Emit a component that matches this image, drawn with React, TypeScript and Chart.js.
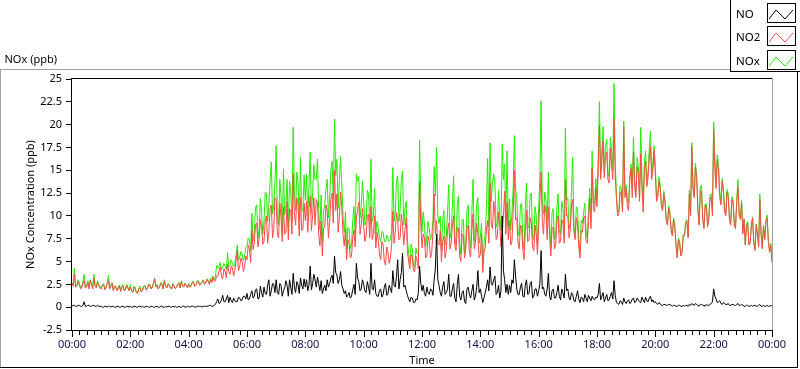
import React, { useEffect, useRef } from 'react';
import { Chart, registerables } from 'chart.js';

Chart.register(...registerables);

// ---- data (2.5-minute samples, 00:00 .. 24:00; one line per hour) ----
const STEP_MIN = 2.5;
const SERIES_LABELS = ['NO', 'NO2', 'NOx'];
const SERIES_COLORS = ['#000000', '#ff4848', '#22ee00'];
const X_TICK_LABELS = ['00:00', '02:00', '04:00', '06:00', '08:00', '10:00', '12:00', '14:00', '16:00', '18:00', '20:00', '22:00', '00:00'];
const Y_MIN = -2.5;
const Y_MAX = 25;
const Y_STEP = 2.5;

const NO = [
  0.1, 0.2, 0.2, 0.1, 0.1, 0.2, 0.2, 0.1, 0.1, 0.2, 0.6, 0.1, 0.1, 0.2, 0.2, 0.1, 0.1, 0.2, 0.2, 0.1, 0.1, 0.2, 0.1, 0.1,
  0.1, 0.0, 0.0, 0.1, 0.1, 0.0, 0.1, 0.1, 0.0, 0.1, 0.1, 0.0, 0.0, 0.1, 0.1, 0.0, 0.0, 0.1, 0.1, 0.0, 0.0, 0.1, 0.1, 0.0,
  0.1, 0.0, 0.0, 0.1, 0.1, 0.0, 0.0, 0.1, 0.1, 0.0, 0.1, 0.0, 0.0, 0.1, 0.1, 0.0, 0.0, 0.1, 0.1, 0.0, 0.0, 0.1, 0.1, 0.0,
  0.0, 0.1, 0.1, 0.0, 0.0, 0.1, 0.0, 0.1, 0.1, 0.0, 0.0, 0.1, 0.0, 0.1, 0.0, 0.0, 0.1, 0.0, 0.0, 0.1, 0.1, 0.0, 0.0, 0.1,
  0.1, 0.0, 0.1, 0.1, 0.1, 0.0, 0.0, 0.1, 0.1, 0.1, 0.1, 0.0, 0.1, 0.1, 0.1, 0.1, 0.1, 0.2, 0.2, 0.1, 0.1, 0.2, 0.3, 0.6,
  0.9, 0.4, 0.5, 0.8, 1.3, 0.6, 0.6, 0.9, 1.3, 0.5, 1.1, 0.7, 0.5, 1.0, 0.7, 0.6, 0.6, 1.1, 1.0, 0.7, 0.8, 1.2, 1.2, 0.9,
  1.5, 0.8, 0.9, 1.4, 1.8, 1.0, 1.2, 1.9, 2.0, 0.9, 1.0, 2.3, 1.6, 1.1, 2.2, 1.5, 1.4, 2.4, 3.0, 1.2, 1.8, 2.6, 2.5, 1.6,
  3.0, 1.6, 1.4, 2.6, 2.4, 1.2, 1.8, 2.1, 2.9, 2.4, 1.2, 3.0, 2.2, 1.4, 3.7, 2.2, 1.6, 2.8, 2.5, 1.5, 3.2, 2.4, 2.0, 3.1,
  2.2, 3.0, 1.8, 2.4, 4.5, 1.9, 2.6, 3.6, 3.0, 2.2, 3.3, 2.6, 1.8, 2.9, 1.5, 2.0, 2.4, 1.8, 3.0, 2.2, 2.6, 3.2, 3.5, 2.6,
  5.6, 3.8, 3.5, 2.6, 3.0, 3.9, 2.4, 2.0, 1.5, 1.8, 1.1, 1.3, 1.6, 1.0, 1.2, 1.9, 2.5, 1.4, 4.8, 3.2, 2.8, 1.8, 2.0, 3.0,
  2.5, 1.8, 1.6, 2.8, 2.2, 1.4, 4.8, 2.0, 1.9, 3.0, 1.5, 1.2, 1.2, 1.8, 2.0, 1.1, 1.4, 2.2, 2.6, 1.3, 1.5, 2.4, 2.0, 1.6,
  4.0, 2.4, 2.2, 3.4, 5.2, 2.0, 3.0, 3.8, 5.9, 2.2, 2.4, 1.8, 1.3, 0.9, 0.6, 1.1, 1.0, 0.5, 0.5, 0.9, 0.8, 1.6, 4.5, 2.6,
  1.8, 2.4, 1.5, 1.2, 2.2, 1.6, 1.4, 2.0, 1.9, 1.3, 3.0, 4.2, 8.0, 3.0, 2.4, 1.6, 1.2, 2.2, 2.8, 1.4, 1.6, 2.0, 3.6, 1.2,
  1.2, 2.0, 2.6, 1.0, 0.6, 2.4, 3.6, 1.2, 0.8, 1.6, 1.8, 0.6, 0.4, 2.0, 2.2, 1.4, 1.0, 1.8, 2.5, 0.8, 1.2, 2.2, 4.0, 1.6,
  2.0, 1.2, 0.5, 1.0, 1.6, 2.2, 3.0, 1.8, 4.4, 2.6, 2.4, 3.0, 3.4, 1.4, 1.6, 2.4, 1.0, 1.8, 10.0, 4.0, 3.0, 1.6, 2.5, 1.4,
  2.4, 1.6, 3.0, 2.6, 5.2, 3.4, 2.0, 1.4, 1.4, 2.2, 2.6, 1.2, 1.1, 2.4, 3.0, 1.4, 1.5, 2.6, 2.8, 1.0, 1.2, 2.0, 2.0, 1.2,
  1.8, 2.6, 6.2, 2.0, 2.2, 1.4, 1.2, 2.0, 3.7, 1.2, 0.8, 1.8, 2.0, 1.0, 1.0, 1.6, 2.4, 1.2, 0.8, 2.0, 1.6, 1.0, 3.6, 1.8,
  2.0, 1.0, 0.8, 1.6, 1.4, 0.7, 0.6, 1.2, 1.8, 0.9, 0.5, 1.1, 1.0, 0.6, 1.4, 1.0, 0.6, 1.3, 1.0, 0.7, 1.2, 0.9, 0.8, 1.1,
  1.0, 1.4, 2.6, 0.8, 1.2, 1.6, 0.6, 1.0, 1.4, 0.7, 0.8, 1.2, 1.6, 0.9, 2.9, 1.3, 0.5, 0.4, 0.3, 0.7, 0.6, 0.3, 1.0, 0.6,
  0.4, 0.7, 0.8, 0.4, 0.5, 0.9, 1.0, 0.5, 0.6, 1.0, 0.8, 0.6, 0.5, 1.1, 0.8, 0.5, 1.1, 0.7, 0.6, 1.0, 1.2, 0.6, 0.8, 0.5,
  0.6, 0.4, 0.3, 0.5, 0.4, 0.2, 0.2, 0.3, 0.3, 0.2, 0.2, 0.3, 0.3, 0.2, 0.1, 0.2, 0.2, 0.1, 0.1, 0.2, 0.2, 0.1, 0.1, 0.2,
  0.1, 0.2, 0.2, 0.1, 0.3, 0.2, 0.4, 0.3, 0.2, 0.4, 0.3, 0.2, 0.1, 0.3, 0.3, 0.2, 0.2, 0.1, 0.3, 0.2, 0.2, 0.3, 0.4, 0.6,
  2.0, 1.2, 0.9, 0.5, 0.6, 0.7, 0.4, 0.3, 0.5, 0.4, 0.3, 0.3, 0.4, 0.2, 0.2, 0.3, 0.3, 0.2, 0.2, 0.3, 0.4, 0.2, 0.2, 0.3,
  0.2, 0.1, 0.1, 0.2, 0.2, 0.1, 0.1, 0.2, 0.1, 0.2, 0.2, 0.1, 0.1, 0.2, 0.3, 0.1, 0.1, 0.2, 0.1, 0.1, 0.2, 0.1, 0.1, 0.2,
  0.1,
];

const NO2 = [
  2.6, 2.3, 3.6, 2.2, 2.3, 2.8, 2.5, 2.0, 2.1, 2.6, 2.9, 2.1, 2.2, 2.7, 2.0, 2.9, 2.5, 2.0, 3.2, 2.3, 2.1, 2.7, 2.4, 2.1,
  2.0, 2.4, 2.5, 1.9, 2.1, 2.6, 2.9, 2.0, 2.3, 2.6, 1.8, 2.3, 2.2, 1.8, 2.0, 2.4, 1.7, 2.2, 2.3, 1.8, 1.9, 2.4, 2.1, 1.8,
  2.2, 1.8, 1.6, 2.2, 2.0, 1.6, 1.5, 2.0, 2.1, 1.7, 1.8, 2.3, 2.3, 1.9, 2.0, 2.5, 2.4, 2.0, 2.1, 2.6, 3.1, 2.2, 2.3, 2.0,
  2.2, 2.6, 2.5, 2.0, 2.9, 2.3, 2.1, 2.5, 2.4, 2.1, 2.0, 2.5, 2.3, 2.0, 2.2, 2.5, 2.6, 2.1, 2.8, 2.3, 2.2, 2.6, 2.4, 2.1,
  2.5, 2.2, 2.3, 2.7, 2.7, 2.3, 2.4, 2.8, 2.8, 2.4, 2.5, 2.8, 2.9, 2.5, 2.6, 3.0, 2.8, 2.5, 3.0, 2.7, 3.3, 2.8, 2.9, 3.4,
  3.4, 4.0, 4.4, 3.3, 3.1, 4.2, 3.9, 3.2, 4.7, 3.9, 3.6, 4.5, 4.3, 3.4, 4.0, 5.1, 6.2, 4.0, 4.5, 5.4, 5.0, 3.9, 4.4, 5.6,
  5.2, 6.8, 6.4, 4.9, 8.5, 6.3, 7.0, 9.0, 9.2, 6.6, 7.5, 9.6, 8.8, 6.9, 7.2, 9.4, 10.0, 7.0, 8.3, 10.8, 11.2, 7.6, 8.6, 12.0,
  11.8, 8.0, 7.6, 11.4, 9.8, 7.2, 11.0, 8.0, 8.2, 11.6, 7.4, 10.8, 10.5, 8.0, 14.6, 10.2, 9.0, 12.0, 11.2, 7.8, 12.0, 8.4, 8.5, 11.4,
  9.5, 11.6, 8.2, 10.8, 12.2, 8.4, 10.0, 12.0, 9.0, 11.8, 11.5, 8.0, 6.7, 9.4, 5.6, 8.6, 8.8, 11.2, 10.6, 7.6, 9.4, 11.8, 12.5, 9.2,
  15.0, 10.6, 12.4, 8.2, 9.8, 12.6, 11.0, 8.0, 6.7, 8.6, 5.2, 7.4, 7.0, 5.4, 5.6, 7.6, 8.5, 6.6, 9.8, 10.6, 11.5, 8.0, 9.1, 10.8,
  9.0, 7.2, 7.8, 10.0, 10.2, 7.6, 11.0, 7.4, 8.0, 10.0, 6.5, 8.2, 7.4, 5.8, 5.2, 7.2, 6.8, 5.0, 4.6, 6.6, 6.0, 4.8, 5.4, 6.8,
  10.5, 7.0, 8.2, 10.4, 9.5, 7.4, 7.6, 10.2, 9.0, 6.8, 8.4, 9.8, 6.2, 5.0, 4.2, 5.8, 5.5, 4.0, 3.9, 5.6, 5.0, 4.2, 13.8, 9.0,
  6.5, 8.0, 7.6, 5.4, 5.6, 7.8, 7.2, 5.4, 6.0, 8.2, 12.4, 8.0, 9.5, 7.0, 6.8, 8.4, 5.0, 7.2, 7.8, 5.4, 6.2, 8.4, 9.2, 6.4,
  7.0, 9.0, 10.0, 6.8, 6.2, 8.8, 8.6, 5.6, 5.0, 8.0, 7.8, 5.4, 6.4, 8.6, 9.0, 6.0, 5.5, 8.4, 10.2, 6.4, 7.0, 9.2, 8.0, 5.4,
  5.8, 8.0, 3.8, 6.0, 6.5, 8.4, 9.5, 7.0, 13.6, 9.0, 8.6, 11.6, 10.2, 7.4, 7.7, 10.4, 9.0, 6.6, 7.9, 10.0, 12.7, 8.0, 11.5, 7.4,
  9.5, 6.8, 7.2, 10.4, 15.0, 9.6, 9.8, 7.0, 6.4, 9.0, 8.8, 6.2, 5.2, 8.4, 10.6, 7.2, 7.4, 9.8, 9.2, 6.6, 6.2, 9.0, 8.0, 5.8,
  9.0, 11.6, 14.8, 9.4, 8.0, 11.2, 10.4, 7.4, 11.0, 8.0, 5.6, 8.6, 8.8, 6.4, 6.8, 9.4, 10.0, 7.0, 7.2, 9.6, 9.2, 7.0, 14.0, 10.0,
  10.0, 7.6, 8.4, 11.2, 11.8, 8.2, 7.4, 9.8, 9.0, 6.6, 5.4, 8.4, 8.2, 9.8, 10.0, 7.2, 7.0, 9.4, 12.0, 8.6, 15.2, 10.8, 10.4, 13.0,
  11.0, 15.0, 19.9, 14.0, 16.0, 18.2, 14.2, 16.6, 17.0, 14.0, 13.6, 17.4, 15.5, 14.0, 20.6, 14.6, 11.8, 10.0, 10.2, 12.6, 12.4, 10.4, 19.8, 12.0,
  13.0, 11.0, 10.6, 14.0, 15.2, 12.0, 17.0, 13.2, 12.0, 15.4, 14.6, 11.6, 16.8, 13.0, 10.4, 15.2, 16.0, 13.2, 14.2, 16.4, 17.6, 14.0, 15.0, 17.2,
  14.5, 11.6, 12.0, 13.8, 13.0, 11.0, 10.6, 12.4, 11.4, 9.4, 9.0, 10.8, 10.2, 8.4, 7.8, 9.6, 8.8, 6.8, 5.4, 7.4, 7.0, 5.6, 6.0, 7.8,
  7.8, 9.2, 9.4, 7.6, 12.4, 10.0, 17.6, 13.0, 12.0, 15.4, 14.2, 10.6, 9.0, 12.8, 12.6, 9.6, 8.6, 11.2, 11.0, 8.8, 9.6, 12.0, 12.0, 10.0,
  19.5, 15.0, 13.0, 16.2, 15.0, 12.0, 11.2, 13.8, 12.6, 10.4, 10.0, 12.6, 12.0, 9.6, 9.0, 11.8, 11.4, 9.0, 8.6, 11.6, 13.2, 10.0, 9.6, 11.4,
  8.0, 9.6, 6.8, 8.8, 9.2, 6.8, 7.0, 8.8, 9.8, 7.0, 6.2, 9.0, 8.0, 6.6, 11.8, 8.0, 6.4, 8.8, 7.4, 9.4, 9.8, 7.2, 6.0, 6.8,
  4.9,
];

const NOX = [
  2.7, 2.5, 4.3, 2.3, 2.4, 3.0, 2.7, 2.1, 2.2, 2.8, 3.6, 2.2, 2.3, 2.9, 2.2, 3.0, 2.6, 2.2, 3.6, 2.4, 2.2, 2.9, 2.5, 2.2,
  2.1, 2.4, 2.6, 2.0, 2.2, 2.6, 3.5, 2.1, 2.4, 2.7, 1.9, 2.3, 2.3, 1.9, 2.1, 2.4, 1.8, 2.3, 2.5, 1.8, 2.0, 2.5, 2.2, 1.8,
  2.5, 1.8, 1.7, 2.3, 2.2, 1.6, 1.6, 2.1, 2.3, 1.7, 1.9, 2.3, 2.4, 2.0, 2.1, 2.5, 2.5, 2.1, 2.2, 2.6, 3.2, 2.3, 2.5, 2.0,
  2.2, 2.7, 2.6, 2.0, 3.0, 2.4, 2.1, 2.6, 2.5, 2.1, 2.0, 2.6, 2.3, 2.1, 2.2, 2.5, 2.7, 2.1, 2.9, 2.4, 2.3, 2.6, 2.4, 2.2,
  2.6, 2.2, 2.4, 2.8, 2.8, 2.3, 2.4, 2.9, 2.9, 2.5, 2.6, 2.8, 3.0, 2.6, 2.7, 3.1, 2.9, 2.7, 3.2, 2.8, 3.4, 3.0, 3.3, 4.6,
  4.3, 4.4, 4.9, 4.1, 4.4, 4.8, 4.5, 4.1, 6.0, 4.4, 4.7, 5.2, 4.8, 4.4, 4.7, 5.7, 6.8, 5.1, 5.5, 6.1, 5.8, 5.1, 5.6, 6.5,
  6.7, 7.6, 7.3, 6.3, 10.3, 7.3, 8.2, 10.9, 11.2, 7.5, 8.5, 11.9, 10.4, 8.0, 9.4, 12.6, 12.4, 9.4, 11.3, 13.8, 15.9, 10.2, 11.1, 13.6,
  17.7, 9.6, 9.0, 14.0, 12.2, 8.4, 15.1, 10.1, 11.1, 14.0, 8.6, 13.8, 12.7, 9.4, 19.7, 12.4, 10.6, 14.8, 13.7, 9.3, 16.4, 10.8, 10.5, 14.5,
  11.7, 14.6, 10.0, 13.2, 17.0, 10.3, 12.6, 15.6, 14.0, 14.0, 16.2, 10.6, 8.5, 12.3, 7.1, 10.6, 11.2, 13.0, 14.0, 9.8, 12.0, 15.0, 16.0, 11.8,
  20.6, 14.4, 16.2, 10.8, 14.0, 16.5, 13.4, 10.0, 8.2, 10.4, 6.3, 8.7, 8.6, 6.4, 6.8, 9.5, 11.0, 8.0, 14.6, 13.8, 14.3, 9.8, 11.1, 13.8,
  11.5, 9.0, 9.4, 12.8, 12.4, 9.0, 16.2, 9.4, 9.9, 13.0, 8.0, 9.4, 8.6, 7.6, 7.2, 8.3, 8.2, 7.2, 7.2, 7.9, 7.5, 7.2, 7.4, 8.4,
  15.3, 9.4, 10.4, 13.8, 14.4, 9.4, 10.6, 14.0, 14.9, 9.0, 10.8, 11.6, 7.5, 5.9, 4.8, 6.9, 6.5, 4.5, 4.4, 6.5, 5.8, 5.8, 18.3, 11.6,
  8.3, 10.4, 9.1, 6.6, 7.8, 9.4, 8.6, 7.4, 7.9, 9.5, 15.4, 12.2, 17.5, 10.0, 9.2, 10.0, 6.2, 9.4, 10.6, 6.8, 7.8, 10.4, 13.4, 7.6,
  8.2, 11.0, 14.4, 7.8, 6.8, 11.2, 12.2, 6.8, 5.8, 9.6, 9.6, 6.0, 6.8, 10.6, 11.2, 7.4, 6.5, 10.2, 14.0, 7.2, 8.2, 11.4, 12.0, 7.0,
  7.8, 9.2, 4.3, 7.0, 8.1, 10.6, 16.3, 8.8, 18.0, 11.6, 13.6, 14.6, 13.6, 8.8, 9.3, 12.8, 10.0, 8.4, 17.9, 14.0, 15.7, 9.6, 17.1, 8.8,
  11.9, 8.4, 10.2, 13.0, 18.8, 13.0, 11.8, 8.4, 7.8, 11.2, 11.4, 7.4, 6.3, 10.8, 13.6, 8.6, 8.9, 12.4, 12.5, 7.6, 7.4, 11.0, 10.0, 7.0,
  10.8, 14.2, 22.6, 11.4, 10.2, 12.6, 11.6, 9.4, 14.8, 9.2, 6.4, 10.4, 10.8, 7.4, 7.8, 11.0, 12.4, 8.2, 8.0, 11.6, 10.8, 8.0, 19.6, 11.8,
  12.0, 8.6, 9.2, 12.8, 16.4, 8.9, 8.0, 11.0, 10.8, 7.5, 5.9, 9.5, 9.2, 10.4, 11.4, 8.2, 7.6, 10.7, 13.0, 9.3, 17.1, 11.7, 11.2, 14.1,
  12.0, 16.4, 22.5, 14.8, 17.2, 19.8, 14.8, 17.6, 18.4, 14.7, 14.4, 18.6, 17.1, 14.9, 24.5, 15.9, 12.3, 10.4, 10.5, 13.3, 13.0, 10.7, 20.4, 12.6,
  13.4, 11.7, 11.4, 14.4, 15.7, 12.9, 18.6, 13.7, 12.6, 16.4, 15.4, 12.2, 19.7, 14.1, 11.2, 15.7, 17.1, 13.9, 14.8, 17.4, 19.3, 14.6, 15.8, 17.7,
  15.5, 12.0, 12.3, 14.3, 13.4, 11.2, 10.8, 12.7, 11.7, 9.6, 9.2, 11.1, 10.5, 8.6, 7.9, 9.8, 9.0, 6.9, 5.5, 7.6, 7.2, 5.7, 6.1, 8.0,
  7.9, 9.4, 9.6, 7.7, 12.8, 10.2, 18.0, 13.3, 12.2, 15.8, 14.5, 10.8, 9.1, 13.1, 13.4, 9.8, 8.8, 11.3, 11.3, 9.0, 9.8, 12.3, 12.4, 10.6,
  20.3, 16.2, 13.9, 16.7, 15.6, 12.7, 11.6, 14.1, 13.1, 10.8, 10.3, 12.9, 12.4, 9.8, 9.2, 12.1, 11.7, 9.2, 8.8, 11.9, 14.0, 10.2, 9.8, 11.7,
  8.2, 9.7, 6.9, 9.0, 9.4, 6.9, 7.1, 9.0, 9.9, 7.2, 6.4, 9.1, 8.1, 6.8, 12.4, 8.1, 6.5, 9.0, 7.5, 9.5, 10.1, 7.3, 6.1, 7.0,
  5.0,
];

const FONT = '"Noto Sans", "DejaVu Sans", sans-serif';
const X_TICK_STEP = 15;
const X_LABEL_STEP = 120;
const X_MAX = 1440;

const decorPlugin = {
  id: 'decor',
  beforeDraw(chart: any) {
    const ctx = chart.ctx;
    ctx.save();
    ctx.fillStyle = '#ffffff';
    ctx.fillRect(0, 0, chart.width, chart.height);
    ctx.restore();
  },
  afterDraw(chart: any) {
    const { ctx, chartArea, scales } = chart;
    const L = Math.round(chartArea.left);
    const R = Math.round(chartArea.right);
    const T = Math.round(chartArea.top);
    const B = Math.round(chartArea.bottom);
    ctx.save();
    ctx.lineWidth = 1;
    const line = (x1: number, y1: number, x2: number, y2: number, c: string) => {
      ctx.strokeStyle = c;
      ctx.beginPath();
      ctx.moveTo(x1, y1);
      ctx.lineTo(x2, y2);
      ctx.stroke();
    };
    // outer panel
    line(0, 69.5, 730, 69.5, '#a0a0a0');
    line(0.5, 69, 0.5, 367, '#a0a0a0');
    line(0, 367.5, 798, 367.5, '#000');
    line(797.5, 72, 797.5, 368, '#000');
    // plot frame
    line(L - 1, T - 0.5, R + 1, T - 0.5, '#000');
    line(L - 0.5, T - 1, L - 0.5, B + 1, '#000');
    line(L - 1, B + 0.5, R, B + 0.5, '#000');
    line(R + 0.5, T - 1, R + 0.5, B + 1, '#a0a0a0');
    // x tick marks
    for (let v = 0; v <= X_MAX; v += X_TICK_STEP) {
      const px = Math.round(scales.x.getPixelForValue(v)) + 0.5;
      if (v % X_LABEL_STEP === 0) line(px, B, px, B + 7, '#000');
      else line(px, B + 1, px, B + 5, '#000');
    }
    // y-axis unit caption
    ctx.fillStyle = '#000';
    ctx.font = '11px ' + FONT;
    ctx.textAlign = 'left';
    ctx.textBaseline = 'alphabetic';
    ctx.fillText('NOx (ppb)', 4.5, 63);
    // legend
    line(730.5, 0, 730.5, 72, '#000');
    line(730, 71.5, 800, 71.5, '#000');
    chart.data.datasets.forEach((ds: any, i: number) => {
      const top = 2.5 + i * 23.5;
      const bx = 767;
      const by = Math.round(top);
      ctx.fillStyle = '#000';
      ctx.font = '11.5px ' + FONT;
      ctx.fillText(ds.label, 736, by + 15);
      ctx.strokeStyle = '#000';
      ctx.strokeRect(bx + 0.5, by + 0.5, 28, 19);
      ctx.strokeStyle = ds.borderColor;
      ctx.beginPath();
      ctx.moveTo(bx + 2, by + 16);
      ctx.lineTo(bx + 9, by + 7);
      ctx.lineTo(bx + 18, by + 16);
      ctx.lineTo(bx + 26, by + 7);
      ctx.stroke();
    });
    ctx.restore();
  },
};

export default function App() {
  const ref = useRef<HTMLCanvasElement>(null);
  useEffect(() => {
    document.body.style.margin = '0';
    const toPts = (arr: number[]) => arr.map((v, i) => ({ x: i * STEP_MIN, y: v }));
    const series = [NO, NO2, NOX];
    const xTicks: number[] = [];
    for (let v = 0; v <= X_MAX; v += X_TICK_STEP) xTicks.push(v);
    const chart = new Chart(ref.current as HTMLCanvasElement, {
      type: 'line',
      data: {
        datasets: series.map((arr, i) => ({
          label: SERIES_LABELS[i],
          data: toPts(arr),
          borderColor: SERIES_COLORS[i],
          backgroundColor: SERIES_COLORS[i],
          borderWidth: 1,
          pointRadius: 0,
          tension: 0,
          fill: false,
        })),
      },
      options: {
        responsive: false,
        animation: false,
        devicePixelRatio: 1,
        layout: { padding: { top: 79, right: 28, left: 0, bottom: 0 } },
        plugins: { legend: { display: false }, tooltip: { enabled: false }, title: { display: false } },
        scales: {
          x: {
            type: 'linear',
            min: 0,
            max: X_MAX,
            afterBuildTicks: (axis: any) => {
              axis.ticks = xTicks.map((value) => ({ value }));
            },
            afterFit: (axis: any) => {
              axis.height = 39;
            },
            ticks: {
              autoSkip: false,
              maxRotation: 0,
              padding: 1,
              color: '#10104a',
              font: { family: FONT, size: 11 },
              callback: (value: any) =>
                Number(value) % X_LABEL_STEP === 0 ? X_TICK_LABELS[Number(value) / X_LABEL_STEP] : '',
            },
            grid: { display: true, drawOnChartArea: false, drawTicks: true, tickLength: 7, tickColor: 'rgba(0,0,0,0)' },
            border: { display: false },
            title: { display: true, text: 'Time', color: '#000', font: { family: FONT, size: 11 }, padding: { top: 0, bottom: 2 } },
          },
          y: {
            type: 'linear',
            min: Y_MIN,
            max: Y_MAX,
            afterFit: (axis: any) => {
              axis.width = 72;
            },
            ticks: {
              stepSize: Y_STEP,
              padding: 4,
              color: '#000',
              font: { family: FONT, size: 11 },
              callback: (value: any) => String(value),
            },
            grid: { display: true, drawOnChartArea: false, drawTicks: true, tickLength: 6, tickColor: '#000' },
            border: { display: false },
            title: {
              display: true,
              text: 'NOx Concentration (ppb)',
              color: '#000',
              font: { family: FONT, size: 11 },
              padding: { top: 24, bottom: 0 },
            },
          },
        },
      },
      plugins: [decorPlugin],
    } as any);
    return () => chart.destroy();
  }, []);
  return <canvas ref={ref} width={800} height={369} style={{ display: 'block' }} />;
}
